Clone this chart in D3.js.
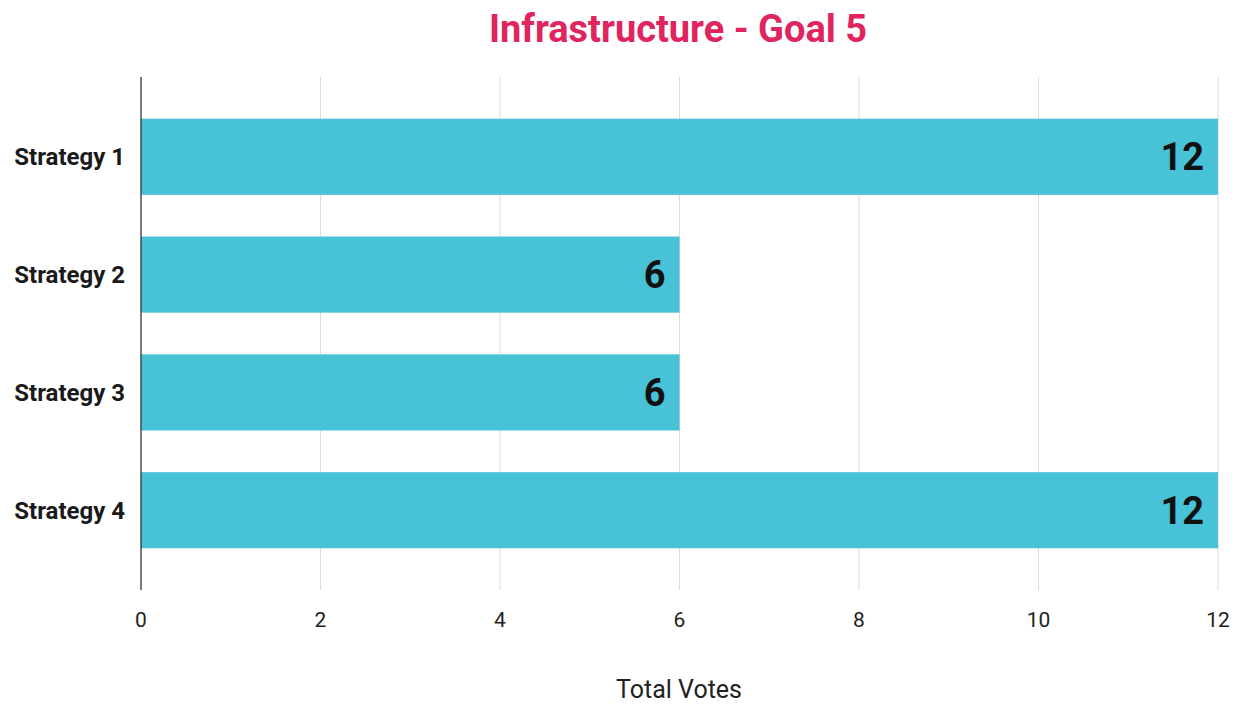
<!DOCTYPE html>
<html><head><meta charset="utf-8">
<script src="https://cdn.jsdelivr.net/npm/d3@7"></script>
<style>body{margin:0;background:#fff;} svg{display:block;font-family:Roboto,sans-serif;}</style>
</head><body>
<script>
const categories = ["Strategy 1","Strategy 2","Strategy 3","Strategy 4"];
const votes = [12,6,6,12];
const xTicks = [0,2,4,6,8,10,12];
const title = "Infrastructure - Goal 5";
const xTitle = "Total Votes";

const W=1244,H=706;
const svg=d3.select("body").append("svg").attr("width",W).attr("height",H);
const x=d3.scaleLinear().domain([0,12]).range([141,1218]);
const y=d3.scaleBand().domain(categories).range([77,590]).paddingInner(0.354).paddingOuter(0.354);

// gridlines
svg.append("g").selectAll("line").data(xTicks.filter(d=>d>0)).join("line")
  .attr("x1",d=>x(d)).attr("x2",d=>x(d)).attr("y1",77).attr("y2",590)
  .attr("stroke","#dcdcdc").attr("stroke-width",1);

// bars
svg.append("g").selectAll("rect").data(categories).join("rect")
  .attr("x",x(0)).attr("y",d=>y(d)).attr("height",y.bandwidth())
  .attr("width",(d,i)=>x(votes[i])-x(0)).attr("fill","#47c2d6");

// axis line
svg.append("line").attr("x1",x(0)).attr("x2",x(0)).attr("y1",77).attr("y2",590)
  .attr("stroke","#333").attr("stroke-width",1.3);

// x tick labels
svg.append("g").selectAll("text").data(xTicks).join("text")
  .attr("x",d=>x(d)).attr("y",627).attr("text-anchor","middle")
  .attr("font-size",21).attr("fill","#222").text(d=>d);

// category labels
svg.append("g").selectAll("text").data(categories).join("text")
  .attr("x",125).attr("y",d=>y(d)+y.bandwidth()/2).attr("dy","0.35em")
  .attr("text-anchor","end").attr("font-size",24).attr("font-weight","bold")
  .attr("fill","#1a1a1a").text(d=>d);

// value labels
svg.append("g").selectAll("text").data(categories).join("text")
  .attr("x",(d,i)=>x(votes[i])-14).attr("y",d=>y(d)+y.bandwidth()/2).attr("dy","0.35em")
  .attr("text-anchor","end").attr("font-size",38).attr("font-weight","bold")
  .attr("fill","#111").text((d,i)=>votes[i]);

// title
svg.append("text").attr("x",678).attr("y",42).attr("text-anchor","middle")
  .attr("font-size",38).attr("font-weight","bold").attr("fill","#e0245e").text(title);

// axis title
svg.append("text").attr("x",679).attr("y",698).attr("text-anchor","middle")
  .attr("font-size",25).attr("fill","#222").text(xTitle);
</script>
</body></html>
